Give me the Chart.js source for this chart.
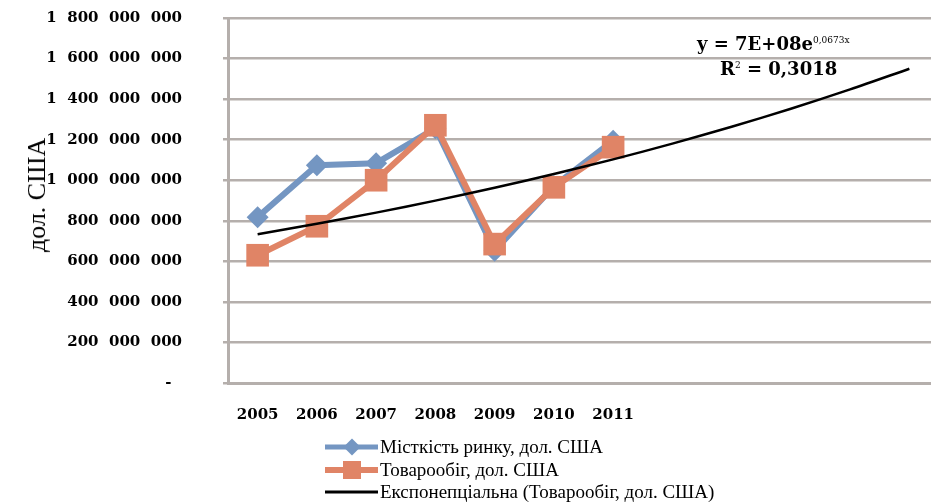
<!DOCTYPE html>
<html lang="uk">
<head>
    <meta charset="UTF-8">
    <title>Місткість ринку та товарообіг</title>
    <style>
        body {
            margin: 0;
            width: 931px;
            height: 503px;
            overflow: hidden;
            background: #ffffff;
            position: relative;
        }
        #marketChart {
            position: absolute;
            left: 0;
            top: 0;
        }
        /* rotated axis title */
        #y-title {
            position: absolute;
            left: 37px;
            top: 195px;
            transform: translate(-50%, -50%) rotate(-90deg);
            font-family: "Liberation Serif", "Times New Roman", serif;
            font-size: 26px;
            color: #000;
            white-space: nowrap;
        }
        /* trendline equation, like the Excel label */
        .eq {
            position: absolute;
            font-family: "DejaVu Serif", serif;
            font-size: 18px;
            font-weight: bold;
            color: #000;
            white-space: nowrap;
        }
        .eq sup { font-size: 9px; font-weight: normal; }
        #legend {
            position: absolute;
            left: 325px;
            top: 436px;
            font-family: "Liberation Serif", "Times New Roman", serif;
            font-size: 19px;
            color: #000;
        }
        .row { height: 22.5px; display: flex; align-items: center; }
        .swatch { position: relative; width: 53px; height: 20px; margin-right: 2px; }
        .swatch .ln { position: absolute; left: 0; right: 0; top: 50%; transform: translateY(-50%); }
        .swatch .mk { position: absolute; left: 50%; top: 50%; }
    </style>
    <script src="https://cdn.jsdelivr.net/npm/chart.js"></script>
</head>
<body>
    <canvas id="marketChart" width="945" height="503"></canvas>
    <div id="y-title">дол. США</div>

    <div class="eq" style="left:697px; top:33px;">y = 7E+08e<sup>0,0673x</sup></div>
    <div class="eq" style="left:720px; top:58px;">R<sup>2</sup> = 0,3018</div>

    <div id="legend"></div>

    <script>
        // years shown on the axis; the axis keeps going to 2016 for the trend forecast
        const years = ["2005", "2006", "2007", "2008", "2009", "2010", "2011"];
        const forecastSlots = ["", "", "", "", ""];

        // values, USD
        const marketCapacity = [818e6, 1074e6, 1084e6, 1256e6, 652e6, 970e6, 1195e6];
        const turnover = [630e6, 773e6, 1000e6, 1271e6, 685e6, 965e6, 1163e6];

        const yTicks = [0, 2e8, 4e8, 6e8, 8e8, 10e8, 12e8, 14e8, 16e8, 18e8];

        const blue = "#7496c2";
        const orange = "#e08466";
        const gridGray = "#b5afac";

        // Excel-style exponential trend (least squares on ln y) for the turnover series
        function expTrend(values, count) {
            const n = values.length;
            let sx = 0, sy = 0, sxy = 0, sxx = 0;
            values.forEach((v, i) => {
                const x = i + 1, ly = Math.log(v);
                sx += x; sy += ly; sxy += x * ly; sxx += x * x;
            });
            const b = (n * sxy - sx * sy) / (n * sxx - sx * sx);
            const a = Math.exp((sy - b * sx) / n);
            const out = [];
            for (let x = 1; x <= count; x++) out.push(a * Math.exp(b * x));
            return out;
        }

        const labels = years.concat(forecastSlots);
        const trend = expTrend(turnover, labels.length);

        // "1 800 000 000" with figure spaces so groups look like the original
        function formatTick(v) {
            if (v === 0) return "-\u2007";
            return String(v).replace(/\B(?=(\d{3})+(?!\d))/g, "\u2007");
        }

        const tickFont = { family: "DejaVu Serif", size: 15, weight: "bold" };

        new Chart(document.getElementById("marketChart"), {
            type: "line",
            data: {
                labels: labels,
                datasets: [
                    {
                        label: "Експонепціальна (Товарообіг, дол. США)",
                        data: trend,
                        borderColor: "#000000",
                        borderWidth: 2.5,
                        pointRadius: 0,
                        tension: 0.3,
                        order: 0
                    },
                    {
                        label: "Товарообіг, дол. США",
                        data: turnover,
                        borderColor: orange,
                        backgroundColor: orange,
                        borderWidth: 6,
                        pointStyle: "rect",
                        pointRadius: 16,
                        pointBorderWidth: 0,
                        order: 1
                    },
                    {
                        label: "Місткість ринку, дол. США",
                        data: marketCapacity,
                        borderColor: blue,
                        backgroundColor: blue,
                        borderWidth: 6,
                        pointStyle: "rectRot",
                        pointRadius: 11,
                        pointBorderWidth: 0,
                        order: 2
                    }
                ]
            },
            options: {
                responsive: false,
                animation: false,
                layout: { autoPadding: false, padding: { top: 18, right: 6, left: 0, bottom: 0 } },
                plugins: {
                    legend: { display: false },
                    tooltip: { enabled: false }
                },
                scales: {
                    x: {
                        offset: true,
                        grid: { display: false },
                        border: { display: true, color: gridGray, width: 3 },
                        ticks: {
                            color: "#000",
                            font: tickFont,
                            padding: 15,
                            maxRotation: 0,
                            autoSkip: false
                        },
                        afterFit: (s) => {
                            s.height = 120;
                            s.paddingLeft = 0;
                            s.paddingRight = 0;
                        }
                    },
                    y: {
                        min: 0,
                        max: 18e8,
                        afterBuildTicks: (s) => { s.ticks = yTicks.map(v => ({ value: v })); },
                        grid: { color: gridGray, lineWidth: 2.5, tickLength: 5 },
                        border: { display: true, color: gridGray, width: 3 },
                        ticks: {
                            color: "#000",
                            font: tickFont,
                            padding: 41,
                            callback: (v) => formatTick(v)
                        },
                        afterFit: (s) => {
                            s.width = 228;
                            // tick padding would otherwise push the plot down
                            s.paddingTop = 0;
                            s.paddingBottom = 0;
                        }
                    }
                }
            }
        });

        // legend under the chart: line with marker, then the name
        const legendItems = [
            { text: "Місткість ринку, дол. США", line: blue, lw: 5,
              marker: "width:12px;height:12px;margin:-6px 0 0 -6px;transform:rotate(45deg);background:" + blue },
            { text: "Товарообіг, дол. США", line: orange, lw: 6,
              marker: "width:18px;height:18px;margin:-9px 0 0 -9px;background:" + orange },
            { text: "Експонепціальна (Товарообіг, дол. США)", line: "#000", lw: 3, marker: "" }
        ];
        const legendEl = document.getElementById("legend");
        legendItems.forEach(item => {
            const row = document.createElement("div");
            row.className = "row";
            row.innerHTML =
                '<span class="swatch"><span class="ln" style="height:' + item.lw + 'px;background:' + item.line + '"></span>' +
                (item.marker ? '<span class="mk" style="' + item.marker + '"></span>' : '') +
                '</span><span>' + item.text + '</span>';
            legendEl.appendChild(row);
        });
    </script>
</body>
</html>
